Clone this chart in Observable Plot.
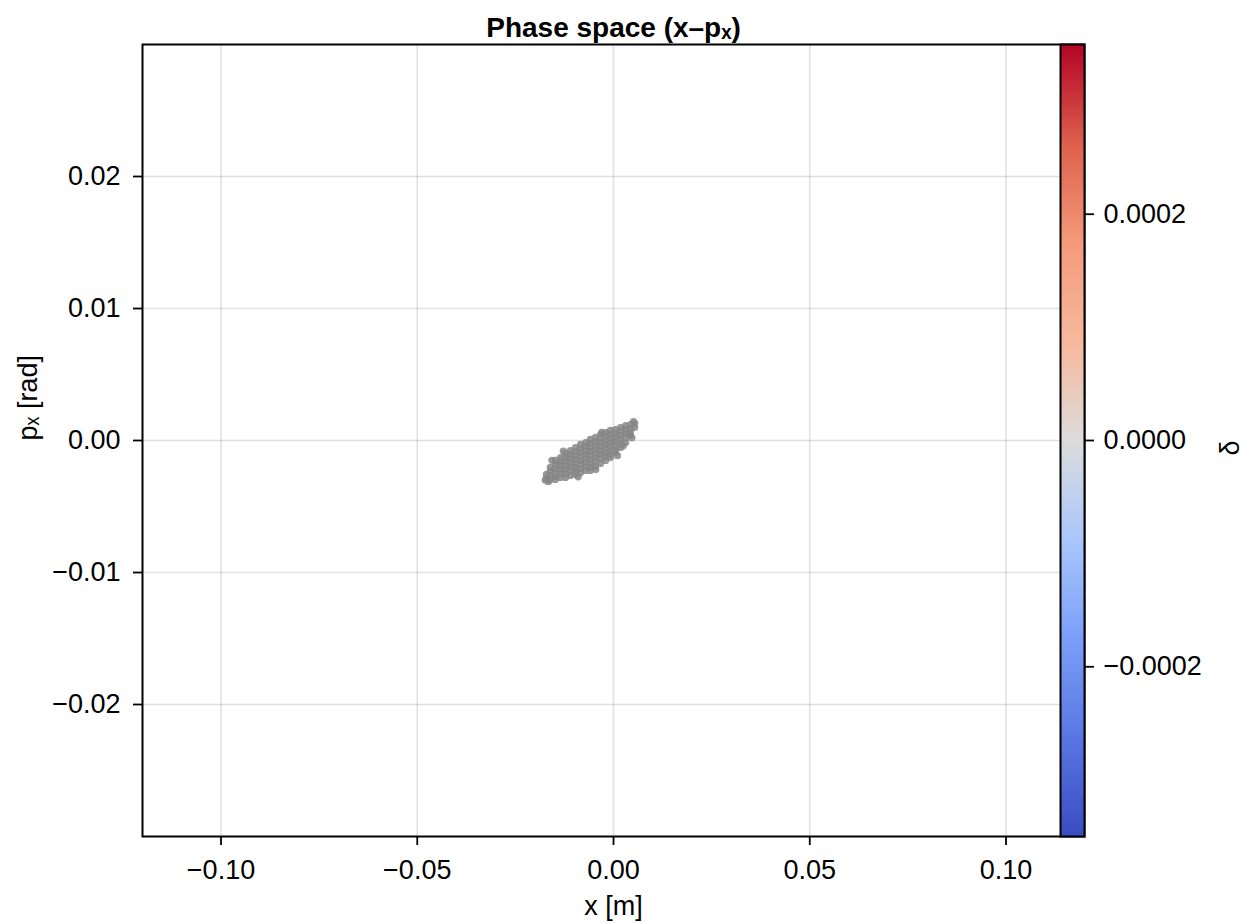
<!DOCTYPE html>
<html>
<head>
<meta charset="utf-8">
<script src="https://cdn.jsdelivr.net/npm/d3@7"></script>
<script src="https://cdn.jsdelivr.net/npm/@observablehq/plot@0.6"></script>
<style>
  body { margin: 0; background: #fff; }
  #wrap { position: relative; width: 1245px; height: 923px; overflow: hidden; }
  #main, #cbar { position: absolute; top: 0; }
  #main { left: 0; }
  #cbar { left: 1059px; }
</style>
</head>
<body>
<div id="wrap"><div id="main"></div><div id="cbar"></div></div>
<script>
// ---- data ----
const titleText = "Phase space (x–pₓ)";
const xLabel = "x [m]";
const yLabel = "pₓ [rad]";
const cLabel = "δ";
const xTicks = [-0.10, -0.05, 0.00, 0.05, 0.10];
const yTicks = [-0.02, -0.01, 0.00, 0.01, 0.02];
const cTicks = [-0.0002, 0.0000, 0.0002];
const xDomain = [-0.12, 0.12];
const yDomain = [-0.03, 0.03];
const cDomain = [-0.00035, 0.00035];
// coolwarm colormap anchors
const cStops = [-0.00035, -0.0002625, -0.000175, -0.0000875, 0, 0.0000875, 0.000175, 0.0002625, 0.00035];
const cColors = ["#3b4cc0", "#5977e3", "#7b9ff9", "#aac7fd", "#dddcdc", "#f7b89c", "#f49a7b", "#de604d", "#b40426"];

// particle cloud, read column by column (x) with the p_x values seen in each column
const cloudX = [-0.0171, -0.0161, -0.0148, -0.0135, -0.0122, -0.0110, -0.0097, -0.0084, -0.0071, -0.0059,
                -0.0046, -0.0033, -0.0020, -0.0008, 0.0005, 0.0018, 0.0031, 0.0043, 0.0054];
const cloudY = [
  [-0.00257, -0.00287],
  [-0.00204, -0.00234, -0.00265, -0.00295],
  [-0.00151, -0.00181, -0.00212, -0.00242, -0.00272, -0.00295],
  [-0.00129, -0.00159, -0.00189, -0.00219, -0.00249, -0.00280],
  [-0.00098, -0.00129, -0.00159, -0.00189, -0.00219, -0.00249, -0.00280],
  [-0.00076, -0.00106, -0.00136, -0.00166, -0.00197, -0.00227, -0.00265],
  [-0.00053, -0.00083, -0.00113, -0.00144, -0.00174, -0.00204, -0.00234, -0.00257],
  [-0.00030, -0.00060, -0.00091, -0.00121, -0.00151, -0.00181, -0.00212, -0.00242],
  [-0.00015, -0.00045, -0.00076, -0.00106, -0.00136, -0.00166, -0.00197, -0.00227],
  [0.00008, -0.00023, -0.00053, -0.00083, -0.00113, -0.00144, -0.00174, -0.00204, -0.00227],
  [0.00023, -0.00008, -0.00038, -0.00068, -0.00098, -0.00129, -0.00159, -0.00197],
  [0.00045, 0.00015, -0.00015, -0.00045, -0.00076, -0.00106, -0.00136, -0.00174],
  [0.00060, 0.00030, 0.00000, -0.00030, -0.00060, -0.00091, -0.00121, -0.00151],
  [0.00076, 0.00045, 0.00015, -0.00015, -0.00045, -0.00076, -0.00106, -0.00129],
  [0.00083, 0.00053, 0.00023, -0.00008, -0.00038, -0.00068, -0.00091],
  [0.00098, 0.00068, 0.00038, 0.00008, -0.00023, -0.00053],
  [0.00113, 0.00083, 0.00053, 0.00023, -0.00015],
  [0.00121, 0.00091, 0.00060, 0.00038],
  [0.00129, 0.00098]
];
// a few sparse edge particles
const edgeX = [-0.0174, -0.0166, -0.0157, 0.0051, 0.0047, 0.0025, -0.0128, -0.0045, 0.0010, -0.0090, -0.0030];
const edgeY = [-0.00300, -0.00312, -0.00150, 0.00144, 0.00020, -0.00040, -0.00080, -0.00220, -0.00115, -0.00275, 0.00062];

// ---- build table ----
const points = [];
cloudX.forEach((x, i) => cloudY[i].forEach(y => points.push({x, y})));
edgeX.forEach((x, i) => points.push({x, y: edgeY[i]}));

const font = "'Liberation Sans', Arial, Helvetica, sans-serif";
const fs = 27;

const main = Plot.plot({
  width: 1245, height: 923,
  marginLeft: 142, marginRight: 161, marginTop: 44, marginBottom: 87,
  style: {fontFamily: font, fontSize: fs + "px", color: "#000", background: "#fff", overflow: "visible"},
  x: {domain: xDomain},
  y: {domain: yDomain},
  marks: [
    Plot.gridX(xTicks, {stroke: "#000", strokeOpacity: 0.12, strokeWidth: 1.5}),
    Plot.gridY(yTicks, {stroke: "#000", strokeOpacity: 0.12, strokeWidth: 1.5}),
    Plot.dot(points, {x: "x", y: "y", r: 3.6, fill: "#868686", fillOpacity: 0.85, stroke: null}),
    Plot.frame({stroke: "#000", strokeWidth: 2}),
    Plot.axisX(xTicks, {tickSize: 9, tickPadding: 14, tickFormat: d3.format(".2f"), label: null, fontSize: fs, strokeWidth: 1.8}),
    Plot.axisY(yTicks, {tickSize: 9, tickPadding: 13, tickFormat: d3.format(".2f"), label: null, fontSize: fs, strokeWidth: 1.8}),
    Plot.text([titleText], {frameAnchor: "top", dy: -16, lineAnchor: "middle", text: d => d, fontWeight: "bold", fontSize: 28}),
    Plot.text([xLabel], {frameAnchor: "bottom", dy: 70, lineAnchor: "middle", text: d => d, fontSize: fs}),
    Plot.text([yLabel], {frameAnchor: "left", dx: -114, lineAnchor: "middle", rotate: -90, text: d => d, fontSize: fs})
  ]
});
document.getElementById("main").appendChild(main);

const cbar = Plot.plot({
  width: 186, height: 923,
  marginLeft: 1, marginRight: 161, marginTop: 44, marginBottom: 87,
  style: {fontFamily: font, fontSize: fs + "px", color: "#000", background: "transparent", overflow: "visible"},
  x: {domain: [0, 1], axis: null},
  y: {domain: cDomain, axis: null},
  color: {type: "linear", domain: cStops, range: cColors, interpolate: "rgb"},
  marks: [
    Plot.raster({fill: (x, y) => y, x1: 0, x2: 1, y1: cDomain[0], y2: cDomain[1], width: 1, height: 400, imageRendering: "auto"}),
    Plot.frame({stroke: "#000", strokeWidth: 2}),
    Plot.axisY(cTicks, {anchor: "right", tickSize: 9, tickPadding: 10, tickFormat: d3.format(".4f"), label: null, fontSize: fs, strokeWidth: 1.8}),
    Plot.text([cLabel], {frameAnchor: "right", dx: 146, lineAnchor: "middle", rotate: -90, text: d => d, fontSize: fs})
  ]
});
document.getElementById("cbar").appendChild(cbar);
</script>
</body>
</html>
